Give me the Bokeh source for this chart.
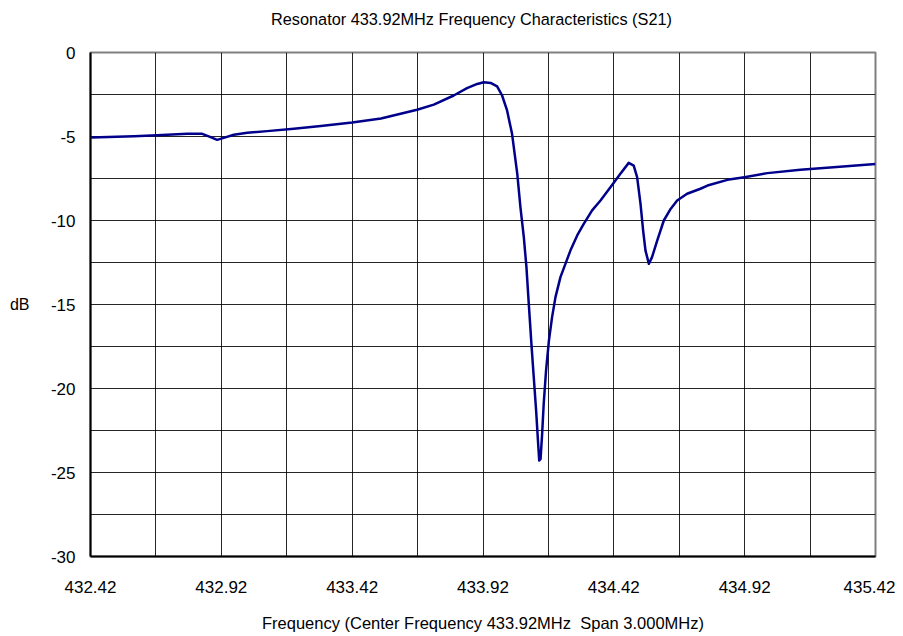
from bokeh.plotting import figure
from bokeh.models import FixedTicker, Range1d, CustomJSTickFormatter, LinearAxis
from bokeh.embed import file_html
from bokeh.resources import INLINE

freq_mhz = [432.423, 432.586, 432.675, 432.790, 432.847, 432.879, 432.904, 432.929, 432.968,
            433.019, 433.095, 433.197, 433.300, 433.420, 433.530, 433.605, 433.668, 433.732,
            433.808, 433.859, 433.898, 433.923, 433.949, 433.974, 433.993, 434.012, 434.031,
            434.051, 434.063, 434.076, 434.086, 434.095, 434.105, 434.114, 434.123, 434.130,
            434.135, 434.140, 434.146, 434.152, 434.161, 434.172, 434.184, 434.197, 434.216,
            434.235, 434.254, 434.280, 434.305, 434.337, 434.369, 434.407, 434.445, 434.477,
            434.496, 434.509, 434.522, 434.532, 434.541, 434.554, 434.566, 434.586, 434.611,
            434.637, 434.662, 434.700, 434.751, 434.778, 434.854, 434.919, 435.007, 435.133,
            435.259, 435.420]
s21_db = [-5.06, -4.98, -4.92, -4.84, -4.84, -5.04, -5.20, -5.08, -4.90,
          -4.78, -4.68, -4.54, -4.38, -4.17, -3.93, -3.65, -3.41, -3.10,
          -2.56, -2.12, -1.87, -1.77, -1.81, -2.02, -2.56, -3.45, -4.84,
          -7.22, -9.21, -10.99, -12.78, -14.96, -17.34, -19.33, -21.31, -23.10,
          -24.29, -24.19, -22.70, -20.91, -18.93, -17.14, -15.75, -14.56, -13.37,
          -12.58, -11.79, -10.89, -10.20, -9.40, -8.81, -8.02, -7.22, -6.57,
          -6.73, -7.42, -9.01, -10.60, -11.79, -12.58, -12.18, -11.19, -10.00,
          -9.31, -8.81, -8.41, -8.11, -7.92, -7.58, -7.42, -7.18, -6.98,
          -6.83, -6.63]

x_tick_values = [432.42, 432.92, 433.42, 433.92, 434.42, 434.92, 435.42]
x_grid_values = [432.42 + 0.25 * i for i in range(13)]
y_tick_values = [0, -5, -10, -15, -20, -25, -30]
y_grid_values = [-2.5 * i for i in range(13)]

title_text = "Resonator 433.92MHz Frequency Characteristics (S21)"
x_title_text = "Frequency (Center Frequency 433.92MHz\u00a0 Span 3.000MHz)"
y_title_text = "dB"

FONT = "Liberation Sans"

p = figure(width=895, height=634, output_backend="svg", toolbar_location=None,
           title_location=None,
           x_range=Range1d(432.42, 435.42), y_range=Range1d(-30, 0),
           min_border_left=90, min_border_right=20, min_border_top=52, min_border_bottom=78)

p.line(freq_mhz, s21_db, line_color="#00008B", line_width=2.5, line_join="round")

p.xaxis.ticker = FixedTicker(ticks=x_tick_values)
p.yaxis.ticker = FixedTicker(ticks=y_tick_values)
p.xaxis.formatter = CustomJSTickFormatter(code="return tick.toFixed(2);")
p.yaxis.formatter = CustomJSTickFormatter(code="return tick.toFixed(0);")
p.xgrid.ticker = FixedTicker(ticks=x_grid_values)
p.ygrid.ticker = FixedTicker(ticks=y_grid_values)
p.grid.grid_line_color = "#000000"
p.grid.grid_line_width = 1
p.grid.grid_line_alpha = 0.85

for ax in (p.xaxis, p.yaxis):
    ax.major_tick_in = 0
    ax.major_tick_out = 0
    ax.minor_tick_line_color = None
    ax.axis_line_color = "black"
    ax.axis_line_width = 2
    ax.major_label_text_font = FONT
    ax.major_label_text_font_size = "17px"
    ax.major_label_text_color = "black"
    ax.axis_label_text_font = FONT
    ax.axis_label_text_font_style = "normal"
    ax.axis_label_text_color = "black"

p.xaxis.major_label_standoff = 24
p.yaxis.major_label_standoff = 15
p.xaxis.axis_label = x_title_text
p.xaxis.axis_label_text_font_size = "16.5px"
p.xaxis.axis_label_standoff = 18

# horizontal "dB" title, drawn as the single label of an extra left axis
db_axis = LinearAxis(ticker=FixedTicker(ticks=[-15]),
                     formatter=CustomJSTickFormatter(args=dict(t=y_title_text), code="return t;"),
                     axis_line_color=None, major_tick_in=0, major_tick_out=0,
                     minor_tick_line_color=None, major_label_standoff=18,
                     major_label_text_font=FONT, major_label_text_font_size="16px",
                     major_label_text_color="black")
p.add_layout(db_axis, "left")

# chart title, drawn as the single label of an extra top axis
title_axis = LinearAxis(ticker=FixedTicker(ticks=[433.876]),
                        formatter=CustomJSTickFormatter(args=dict(t=title_text), code="return t;"),
                        axis_line_color=None, major_tick_in=0, major_tick_out=0,
                        minor_tick_line_color=None, major_label_standoff=25,
                        major_label_text_font=FONT, major_label_text_font_size="16.3px",
                        major_label_text_color="black")
p.add_layout(title_axis, "above")

p.outline_line_color = "#808080"
p.outline_line_width = 2

open("out.html", "w").write(file_html(p, INLINE))
